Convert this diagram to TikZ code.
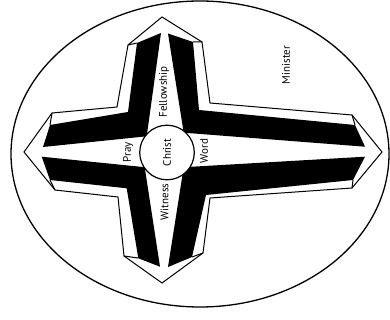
\documentclass[tikz,border=0pt]{standalone}
\usepackage{fontspec}
\setmainfont{PT Sans}
\begin{document}
\begin{tikzpicture}[x=1pt,y=-1pt,line join=miter,
  outl/.style={draw=black,line width=1pt},
  blk/.style={fill=black},
  lab/.style={rotate=90,font=\fontsize{11}{13}\selectfont,inner sep=0pt}]
\useasboundingbox (0,0) rectangle (390,320);
% oval
\draw[line width=1.3pt] (200,154) ellipse [x radius=189, y radius=153];
% cross outline
\draw[outl,fill=white] (162,17) -- (128,45) -- (117,107) -- (52,113) -- (24,152) -- (55,190)
  -- (118,197) -- (124,256) -- (162,283) -- (203,253) -- (210,198) -- (352,188)
  -- (382,152) -- (352,115) -- (210,103) -- (202,42) -- cycle;
% arm end lines
\draw[outl] (128,45) -- (137,43) (202,42) -- (193,42)
  (52,113) -- (50,125) (55,190) -- (50,180)
  (352,115) -- (355,125) (352,188) -- (353,180)
  (124,256) -- (138,258) (203,253) -- (192,257);
% black bands
\fill[blk] (137,43) -- (161,33) -- (146.7,136.3) -- (43,147) -- (50,125) -- (128,112) -- cycle;
\fill[blk] (168,33.5) -- (193,42) -- (199,110) -- (355,125) -- (365,146.7) -- (183.7,132.7) -- cycle;
\fill[blk] (41.7,156.7) -- (144.7,167.2) -- (160,266.7) -- (138.3,258.3) -- (126.7,188.3) -- (50,180) -- cycle;
\fill[blk] (365,156.7) -- (353,180) -- (206,195) -- (192,257) -- (168,267) -- (183.7,167.2) -- cycle;
% centre
\node[circle,draw,line width=1.2pt,fill=white,minimum size=54.6pt,inner sep=0pt] (christ) at (167,152.5) {};
\node[lab] (christt) at (167,152.5) {Christ};
\node[lab] (fellow) at (164,92) {Fellowship};
\node[lab] (pray) at (128,152) {Pray};
\node[lab] (word) at (204,151) {Word};
\node[lab] (witness) at (164.5,202) {Witness};
\node[lab] (minister) at (286,65) {Minister};
\end{tikzpicture}
\end{document}
